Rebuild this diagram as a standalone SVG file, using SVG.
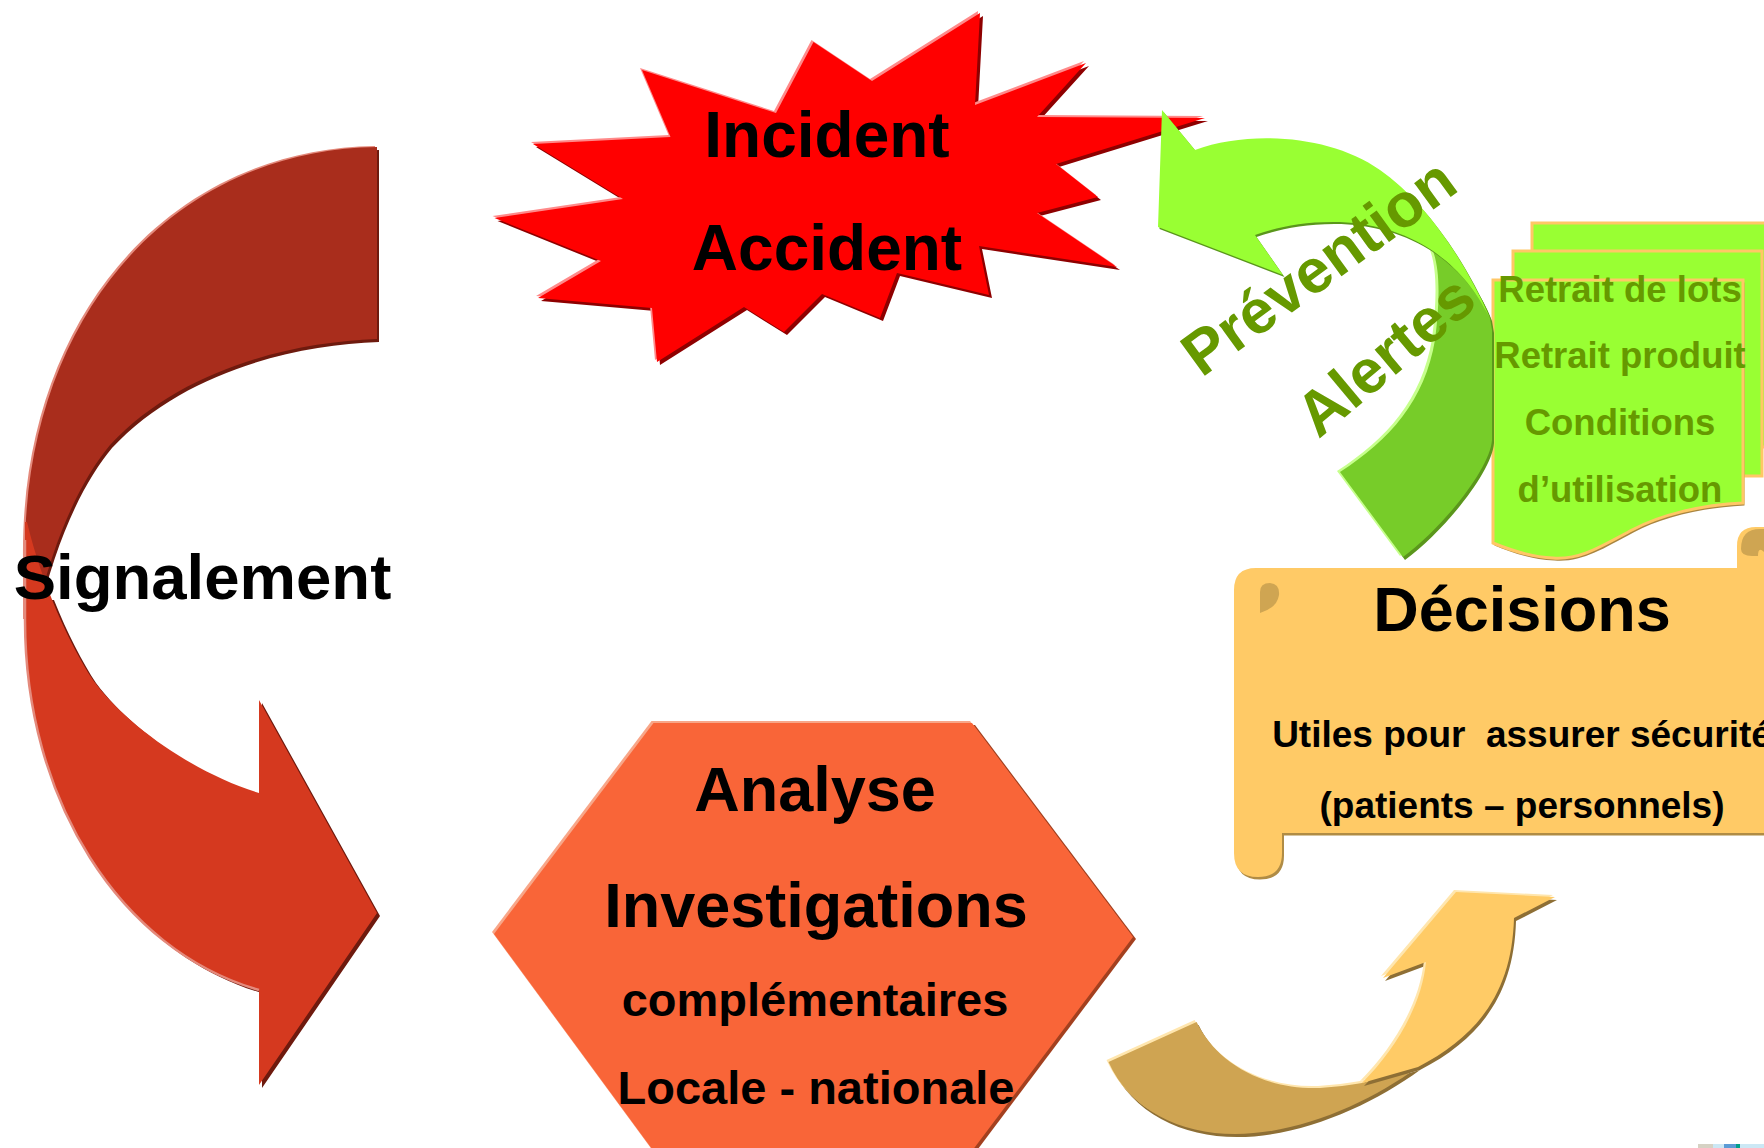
<svg xmlns="http://www.w3.org/2000/svg" xmlns:xlink="http://www.w3.org/1999/xlink" width="1764" height="1148" viewBox="0 0 1764 1148">
  <style>
    .lbl { font-family: "Liberation Sans", Arial, sans-serif; font-weight: bold; text-anchor: middle; }
    .ink { fill: #000000; }
    .olive { fill: #669900; }
    .hl-red { fill: #FF8A8A; }
    .sh-red { fill: #8E0000; }
    .red { fill: #FF0000; }
    .sig-dark { fill: #A92D1C; }
    .sig-light { fill: #D5391F; }
    .sig-sh { fill: #6E1A0E; }
    .sig-hl { fill: #E48A7C; }
    .hex { fill: #F96538; }
    .hex-hl { fill: #F8A688; }
    .hex-sh { fill: #A3401F; }
    .scroll { fill: #FFCA66; }
    .scroll-sh { fill: #B08C45; }
    .curl { fill: #CFA552; }
    .doc { fill: #99FF33; stroke: #FFC766; stroke-width: 3; }
    .doc-sh { fill: #A98540; }
    .gr-light { fill: #99FF33; }
    .gr-dark { fill: #77CC29; }
    .gr-sh { fill: #5A961C; }
    .gr-hl { fill: #C6FF8C; }
    .gold-light { fill: #FFCB66; }
    .gold-dark { fill: #CFA452; }
    .gold-sh { fill: #8E6F35; }
    .gold-hl { fill: #FFE6AE; }
  </style>
  <defs>
    <path id="burst" d="M494.5,218 L623,199 L533,144 L670.5,137 L642,70 L776,113 L813.5,42 L872,81 L980,13 L975,105 L1086,63 L1037,117 L1205,118 L1056,164 L1098,197 L1037,213 L1117,267 L979,246 L989,295 L897,273 L880,318 L822,294 L784,332 L744,307 L657,362 L652,308 L538,298 L601,261 Z"/>
    <path id="hexagon" d="M494,934 L653.5,723 L972,723 L1133,937 L972,1151 L653.5,1151 Z"/>
    <path id="sig-back" d="M377,147 L377,339 C290,342 180,370 110,445 C85,475 55,530 35,620 L25,620 L25,560 C22,320 170,150 377,147 Z"/>
    <path id="sig-front" d="M25,522 L25,620 C25,800 120,950 259,990 L259,1085 L377,913 L259,700 L259,793 C200,775 130,730 93,680 C70,645 42,585 27,522 Z"/>
    <path id="scroll-body" d="M1234,590 Q1234,568 1256,568 L1800,568 L1800,833 L1282,833 L1282,853 Q1282,877 1258,877 Q1234,877 1234,853 Z"/>
    <path id="doc-front" d="M1493,280 L1743,280 L1743,503 C1700,505 1660,515 1632,530 C1600,547 1580,560 1553,558 C1530,557 1510,550 1493,543 Z"/>
    <path id="prev-light" d="M1162,110 L1195,150 C1250,130 1330,135 1380,170 C1420,198 1460,250 1490,318 C1475,290 1460,270 1433,251 C1405,232 1370,222 1333,222 C1300,222 1275,228 1255,235 L1283,275 L1158,227 Z"/>
    <path id="prev-dark" d="M1433,251 C1462,268 1480,290 1490,318 L1492,330 L1492,440 C1490,470 1440,530 1403,557 L1340,472 C1390,440 1425,400 1435,340 C1440,300 1440,270 1433,251 Z"/>
    <path id="gold-dark-p" d="M1108.5,1062 L1196.6,1022 C1215,1060 1260,1090 1320,1088 C1335,1087 1350,1085 1362,1083 L1418,1067 C1370,1102 1300,1134 1235,1134 C1180,1134 1130,1110 1108.5,1062 Z"/>
    <path id="gold-light-p" d="M1362,1083 C1395,1050 1422,1005 1426,962 L1383,978 L1456,892 L1555,897 L1514,918 C1512,990 1480,1035 1418,1067 Z"/>
    <!-- keeps the lower band's drop shadow off the upper band -->
    <clipPath id="below-fold">
      <rect x="0" y="600" width="420" height="548"/>
    </clipPath>
  </defs>

  <!-- Incident / Accident starburst -->
  <g id="node-incident">
    <use xlink:href="#burst" class="sh-red" transform="translate(3,3)"/>
    <use xlink:href="#burst" class="hl-red" transform="translate(-2,-2)"/>
    <use xlink:href="#burst" class="red"/>
    <text class="lbl ink" x="827" y="157" font-size="64">Incident</text>
    <text class="lbl ink" x="827" y="270" font-size="64">Accident</text>
  </g>

  <!-- Analyse hexagon -->
  <g id="node-analyse">
    <use xlink:href="#hexagon" class="hex-sh" transform="translate(3,2)"/>
    <use xlink:href="#hexagon" class="hex-hl" transform="translate(-2,-2)"/>
    <use xlink:href="#hexagon" class="hex"/>
    <text class="lbl ink" x="815" y="811" font-size="63">Analyse</text>
    <text class="lbl ink" x="816" y="927" font-size="63">Investigations</text>
    <text class="lbl ink" x="815" y="1016" font-size="47">complémentaires</text>
    <text class="lbl ink" x="816" y="1104" font-size="47">Locale - nationale</text>
  </g>

  <!-- Stacked documents -->
  <g id="node-documents">
    <rect class="doc" x="1532" y="223" width="260" height="224"/>
    <rect class="doc" x="1513" y="251" width="249" height="225"/>
    <use xlink:href="#doc-front" class="doc-sh" transform="translate(1.5,2.5)"/>
    <use xlink:href="#doc-front" class="doc"/>
    <text class="lbl olive" x="1620" y="302" font-size="36.5">Retrait de lots</text>
    <text class="lbl olive" x="1620" y="368" font-size="36.5">Retrait produit</text>
    <text class="lbl olive" x="1620" y="435" font-size="36.5">Conditions</text>
    <text class="lbl olive" x="1620" y="502" font-size="36.5">d’utilisation</text>
  </g>

  <!-- Décisions scroll -->
  <g id="node-decisions">
    <use xlink:href="#scroll-body" class="scroll-sh" transform="translate(2,2.5)"/>
    <use xlink:href="#scroll-body" class="scroll"/>
    <path class="curl" d="M1260,613 L1260,592 Q1260,583 1270,583 Q1280,584 1279,595 Q1277,608 1260,613 Z"/>
    <path class="scroll" d="M1737,568 L1737,546 Q1737,527 1756,527 L1770,527 L1770,568 Z"/>
    <path class="curl" d="M1741,549 Q1741,529 1760,529 L1764,529 L1764,552 Q1758,546 1758,556 L1752,556 Q1741,556 1741,549 Z"/>
    <text class="lbl ink" x="1522" y="631" font-size="63">Décisions</text>
    <text class="lbl ink" x="1522" y="747" font-size="37">Utiles pour&#160; assurer sécurité</text>
    <text class="lbl ink" x="1522" y="818" font-size="37">(patients – personnels)</text>
  </g>

  <!-- Connectors: curved arrows and their labels -->
  <g id="connectors">
    <g id="arrow-signalement">
      <use xlink:href="#sig-back" class="sig-sh" transform="translate(2,3)"/>
      <use xlink:href="#sig-back" class="sig-hl" transform="translate(-2,-1)"/>
      <use xlink:href="#sig-back" class="sig-dark"/>
      <g clip-path="url(#below-fold)">
        <use xlink:href="#sig-front" class="sig-sh" transform="translate(3,3)"/>
      </g>
      <use xlink:href="#sig-front" class="sig-light"/>
      <path d="M25,540 L25,620 C25,800 120,950 259,990" fill="none" stroke="#E48A7C" stroke-width="2.5"/>
      <text class="lbl ink" x="202.5" y="599" font-size="63.5">Signalement</text>
    </g>

    <g id="arrow-prevention">
      <use xlink:href="#prev-dark" class="gr-sh" transform="translate(2,3)"/>
      <use xlink:href="#prev-dark" class="gr-hl" transform="translate(-3,-1)"/>
      <use xlink:href="#prev-dark" class="gr-dark"/>
      <use xlink:href="#prev-light" class="gr-sh" transform="translate(1.5,2)"/>
      <use xlink:href="#prev-light" class="gr-light"/>
      <text class="lbl olive" font-size="62" transform="translate(1331,284) rotate(-36)">Prévention</text>
      <text class="lbl olive" font-size="62" transform="translate(1399,372) rotate(-40)">Alertes</text>
    </g>

    <g id="arrow-decision">
      <use xlink:href="#gold-dark-p" class="gold-sh" transform="translate(2,3)"/>
      <use xlink:href="#gold-dark-p" class="gold-hl" transform="translate(-2,-2)"/>
      <use xlink:href="#gold-dark-p" class="gold-dark"/>
      <use xlink:href="#gold-light-p" class="gold-sh" transform="translate(2,3)"/>
      <use xlink:href="#gold-light-p" class="gold-hl" transform="translate(-2,-2)"/>
      <use xlink:href="#gold-light-p" class="gold-light"/>
    </g>
  </g>

  <!-- Footer colour strip -->
  <g id="footer-strip">
    <rect x="1698" y="1144" width="15" height="4" fill="#D6D2C4"/>
    <rect x="1713" y="1144" width="11" height="4" fill="#CCE8F5"/>
    <rect x="1724" y="1144" width="12" height="4" fill="#5B9BD5"/>
    <rect x="1736" y="1144" width="4" height="4" fill="#00A08A"/>
    <rect x="1740" y="1144" width="24" height="4" fill="#CCE8F5"/>
  </g>
</svg>
